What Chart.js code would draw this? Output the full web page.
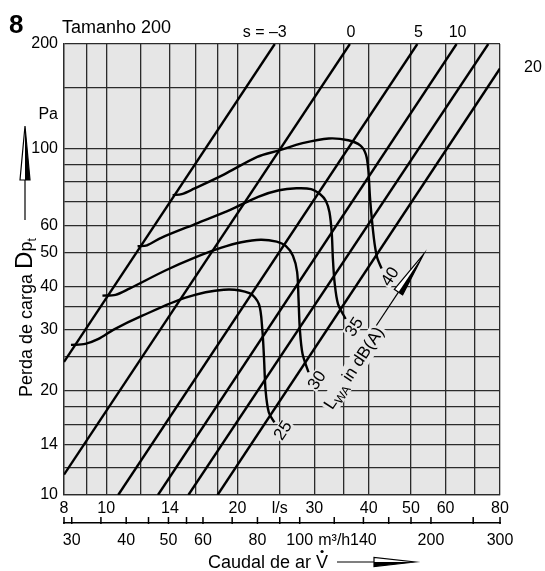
<!DOCTYPE html>
<html><head><meta charset="utf-8">
<script src="https://cdn.jsdelivr.net/npm/chart.js@4/dist/chart.umd.min.js"></script>
<style>html,body{margin:0;padding:0;background:#fff}#wrap{width:545px;height:571px}</style>
</head><body><div id="wrap"><canvas id="c" width="545" height="571"></canvas></div>
<script>
// ---- axis ticks / labels ----
const flowGrid = [8,9,10,12,14,16,18,20,25,30,35,40,50,60,70,80];
const flowLabels = {8:'8',10:'10',14:'14',20:'20',25:'l/s',30:'30',40:'40',50:'50',60:'60',80:'80'};
const m3hTicks = [28.8,30,35,40,45,50,55,60,70,80,90,100,120,140,160,180,200,250,288];
const m3hLabels = {30:'30',40:'40',50:'50',60:'60',80:'80',100:'100',120:'m³/h',140:'140',200:'200',288:'300'};
const paGrid = [10,12,14,16,18,20,25,30,35,40,50,60,70,80,90,100,125,150,200];
const paLabels = {10:'10',14:'14',20:'20',30:'30',40:'40',50:'50',60:'60',100:'100',125:'Pa',200:'200'};

// ---- s lines (flow l/s, pressure Pa) ----
const lineSm3 = [[8,24.2],[24.35,200]];
const lineS0  = [[8,11.45],[36.2,200]];
const lineS5  = [[10.65,10],[51.7,200]];
const lineS10 = [[13.14,10],[63.6,200]];
const lineS15 = [[15.43,10],[75.2,200]];
const lineS20 = [[18,10],[80,170]];
const sLabelText = ['s = –3','0','5','10'];

// ---- characteristic curves ending at L_WA points ----
const curve25 = [[8.3,27.1],[8.95,27.3],[9.6,28.2],[10.4,30.0],[12.1,32.9],[15.2,37.1],[18.6,39.1],[21.3,38.2],[22.4,35.5],[22.8,30],[23.0,25],[23.2,20],[23.6,17.3],[24.3,16.2]];
const curve30 = [[9.8,37.6],[10.5,37.8],[11.3,39.4],[13.7,44.5],[15.9,48.3],[18.3,51.6],[20.4,53.6],[22.6,54.5],[24.6,53.8],[25.8,52.3],[26.8,49],[27.4,44],[27.6,37],[27.8,30],[28.2,25.5],[29.1,22.6]];
const curve35 = [[11.8,52.2],[12.4,52.5],[13.4,55.3],[16.2,60.9],[19.3,66.6],[22.3,72.5],[24.9,75.7],[27.3,76.7],[29.5,76.3],[31.0,73.6],[31.9,70.5],[32.5,65.5],[32.9,57],[33.1,48],[33.4,41],[34.0,35.6],[35.4,32.2]];
const curve40 = [[14.2,73.3],[14.9,73.8],[15.9,76.5],[18.6,84],[22.2,94.5],[24.8,98.5],[28.2,103.5],[32.4,106.8],[35.9,105.5],[38.3,101.8],[39.4,96],[39.9,87],[40.3,71],[41.1,55],[41.8,48.5],[42.8,45]];
const lwaLabels = ['25','30','35','40'];

const FONT = '"Liberation Sans", Arial, Helvetica, sans-serif';
const GRID = '#2b2b2b';
const BG = '#e6e6e6';

const pts = a => a.map(([x,y]) => ({x, y}));
const sLines = [lineSm3, lineS0, lineS5, lineS10, lineS15, lineS20];
const curves = [curve25, curve30, curve35, curve40];

const datasets = [];
sLines.forEach(l => datasets.push({data: pts(l), showLine:true, borderColor:'#000', borderWidth:2.4, pointRadius:0, tension:0, xAxisID:'x', yAxisID:'y'}));
curves.forEach(c => datasets.push({data: pts(c), showLine:true, borderColor:'#000', borderWidth:2.4, pointRadius:0, tension:0.3, xAxisID:'x', yAxisID:'y'}));

function arrowHead(ctx, tip, base, hw) {
  const dx = tip[0]-base[0], dy = tip[1]-base[1], L = Math.hypot(dx,dy);
  const px = -dy/L, py = dx/L;
  const b1 = [base[0]+px*hw, base[1]+py*hw], b2 = [base[0]-px*hw, base[1]-py*hw];
  ctx.beginPath(); ctx.moveTo(tip[0],tip[1]); ctx.lineTo(b1[0],b1[1]); ctx.lineTo(b2[0],b2[1]); ctx.closePath();
  ctx.fillStyle='#fff'; ctx.fill(); ctx.lineWidth=1.2; ctx.strokeStyle='#000'; ctx.stroke();
  ctx.beginPath(); ctx.moveTo(tip[0],tip[1]); ctx.lineTo(b1[0],b1[1]); ctx.lineTo(base[0],base[1]); ctx.closePath();
  ctx.fillStyle='#000'; ctx.fill();
}

const deco = {
  id:'deco',
  beforeDraw(chart){
    const {ctx, chartArea:a} = chart;
    ctx.save();
    ctx.fillStyle='#fff'; ctx.fillRect(0,0,chart.width,chart.height);
    ctx.fillStyle=BG; ctx.fillRect(a.left,a.top,a.right-a.left,a.bottom-a.top);
    ctx.restore();
  },
  afterDraw(chart){
    const ctx = chart.ctx, sx = chart.scales.x, sy = chart.scales.y, s2 = chart.scales.x2;
    const P = p => [sx.getPixelForValue(p[0]), sy.getPixelForValue(p[1])];
    ctx.save();
    // secondary axis tick marks (upward)
    ctx.strokeStyle='#000'; ctx.lineWidth=1.5;
    m3hTicks.forEach(v => { const x = s2.getPixelForValue(v); ctx.beginPath(); ctx.moveTo(x, s2.top-6); ctx.lineTo(x, s2.top+1); ctx.stroke(); });

    ctx.fillStyle='#000';
    // title
    ctx.textBaseline='alphabetic'; ctx.textAlign='left';
    ctx.font='bold 26px '+FONT; ctx.fillText('8', 9, 33);
    ctx.font='18px '+FONT; ctx.fillText('Tamanho 200', 62, 33);

    // s labels
    ctx.font='16px '+FONT;
    sLines.slice(0,4).forEach((l,i) => {
      const x = P(l[1])[0];
      if (i === 0) { ctx.textAlign='right'; ctx.fillText(sLabelText[i], x+12, 37); }
      else { ctx.textAlign='center'; ctx.fillText(sLabelText[i], x+1, 37); }
    });
    const e20 = P(lineS20[1]);
    ctx.textAlign='left'; ctx.fillText('20', e20[0]+24, e20[1]+4);

    // direction of s lines
    const a0 = P(lineS20[0]), a1 = P(lineS20[1]);
    const ang = Math.atan2(a1[1]-a0[1], a1[0]-a0[0]);
    const u = [Math.cos(ang), Math.sin(ang)], n = [-Math.sin(ang), Math.cos(ang)];

    // LwA number labels
    const ends = curves.map(c => P(c[c.length-1]));
    ctx.font='17px '+FONT; ctx.textAlign='center'; ctx.textBaseline='middle';
    ends.forEach((e,i) => {
      const cx = e[0] + 11*n[0] - 2*u[0], cy = e[1] + 11*n[1] - 2*u[1];
      ctx.save(); ctx.translate(cx, cy); ctx.rotate(ang);
      const w = ctx.measureText(lwaLabels[i]).width;
      ctx.fillStyle=BG; ctx.fillRect(-w/2-1,-7,w+2,14);
      ctx.fillStyle='#000'; ctx.fillText(lwaLabels[i],0,1);
      ctx.restore();
    });

    // L_WA in dB(A)
    const mid = [(ends[1][0]+ends[2][0])/2, (ends[1][1]+ends[2][1])/2];
    const C = [mid[0] + 34*n[0] - 4*u[0], mid[1] + 34*n[1] - 4*u[1]];
    ctx.save(); ctx.translate(C[0], C[1]); ctx.rotate(ang);
    ctx.textAlign='left'; ctx.textBaseline='alphabetic';
    const f1='17px '+FONT, f2='12px '+FONT;
    ctx.font=f1; const wL = ctx.measureText('L').width, wR = ctx.measureText(' in dB(A)').width;
    ctx.font=f2; const wS = ctx.measureText('WA').width;
    const W = wL+wS+wR; let x0 = -W/2;
    ctx.fillStyle=BG; ctx.fillRect(x0-2,-9,W+4,20);
    ctx.fillStyle='#000';
    ctx.font=f1; ctx.fillText('L', x0, 6); x0 += wL;
    ctx.font=f2; ctx.fillText('WA', x0, 10); x0 += wS;
    ctx.font=f1; ctx.fillText(' in dB(A)', x0, 6);
    ctx.restore();
    // arrow along
    const A = t => [C[0] + t*u[0] - 4*n[0], C[1] + t*u[1] - 4*n[1]];
    const l0 = A(48), l1 = A(88), tip = A(134);
    ctx.strokeStyle='#000'; ctx.lineWidth=1.2;
    ctx.beginPath(); ctx.moveTo(l0[0],l0[1]); ctx.lineTo(l1[0],l1[1]); ctx.stroke();
    arrowHead(ctx, tip, l1, 5);

    // y axis title
    ctx.save(); ctx.translate(32, 397); ctx.rotate(-Math.PI/2);
    ctx.textAlign='left'; ctx.textBaseline='alphabetic'; ctx.fillStyle='#000';
    let xx = 0;
    ctx.font='18px '+FONT; ctx.fillText('Perda de carga ', xx, 0); xx += ctx.measureText('Perda de carga ').width;
    ctx.font='24px '+FONT; ctx.fillText('D', xx, 0); xx += ctx.measureText('D').width;
    ctx.font='18px '+FONT; ctx.fillText('p', xx, 0); xx += ctx.measureText('p').width;
    ctx.font='12px '+FONT; ctx.fillText('t', xx, 4);
    ctx.restore();
    ctx.strokeStyle='#000'; ctx.lineWidth=1.2;
    ctx.beginPath(); ctx.moveTo(25, 220); ctx.lineTo(25, 180); ctx.stroke();
    arrowHead(ctx, [25,126], [25,180], 5);

    // x axis title
    ctx.font='18px '+FONT; ctx.textAlign='left'; ctx.textBaseline='alphabetic'; ctx.fillStyle='#000';
    const t1 = 'Caudal de ar ';
    ctx.fillText(t1+'V', 208, 568);
    const vx = 208 + ctx.measureText(t1).width + ctx.measureText('V').width/2;
    ctx.beginPath(); ctx.arc(vx, 551.5, 1.6, 0, Math.PI*2); ctx.fill();
    ctx.beginPath(); ctx.moveTo(337,562); ctx.lineTo(374,562); ctx.stroke();
    arrowHead(ctx, [415,562], [374,562], 4.5);
    ctx.restore();
  }
};

const tickFont = {family: FONT, size: 16};
new Chart(document.getElementById('c'), {
  type:'scatter',
  data:{datasets},
  options:{
    responsive:false, animation:false, devicePixelRatio:1,
    layout:{padding:{left:0, right:45, top:44, bottom:18}},
    plugins:{legend:{display:false}, tooltip:{enabled:false}, title:{display:false}},
    scales:{
      x:{type:'logarithmic', min:8, max:80, position:'bottom', weight:0,
        afterBuildTicks: s => { s.ticks = flowGrid.map(v => ({value:v})); },
        afterFit: s => { s.height = 28; },
        grid:{color:GRID, lineWidth:1.3, drawTicks:false},
        border:{display:true, color:GRID, width:1.3},
        ticks:{autoSkip:false, maxRotation:0, minRotation:0, padding:4, color:'#000', font:tickFont, callback: v => flowLabels[v] ?? ''}
      },
      x2:{type:'logarithmic', min:28.8, max:288, position:'bottom', weight:1,
        afterBuildTicks: s => { s.ticks = m3hTicks.map(v => ({value:v})); },
        afterFit: s => { s.height = 30; },
        grid:{drawOnChartArea:false, drawTicks:false, color:'#000'},
        border:{display:true, color:'#000', width:1.5},
        ticks:{autoSkip:false, maxRotation:0, minRotation:0, padding:8, color:'#000', font:tickFont, callback: v => m3hLabels[v] ?? ''}
      },
      y:{type:'logarithmic', min:10, max:200, position:'left',
        afterBuildTicks: s => { s.ticks = paGrid.map(v => ({value:v})); },
        afterFit: s => { s.width = 64; },
        grid:{color: c => (c.tick && c.tick.value === 125) ? 'rgba(0,0,0,0)' : GRID, lineWidth:1.3, drawTicks:false},
        border:{display:true, color:GRID, width:1.3},
        ticks:{autoSkip:false, padding:6, color:'#000', font:tickFont, callback: v => paLabels[v] ?? ''}
      }
    }
  },
  plugins:[deco]
});
</script>
</body></html>
